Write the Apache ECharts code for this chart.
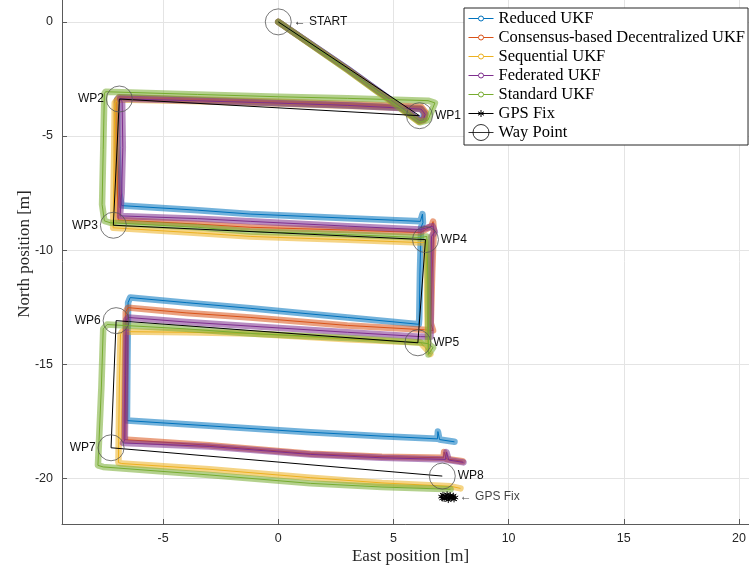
<!DOCTYPE html>
<html>
<head>
<meta charset="utf-8">
<script src="https://cdn.jsdelivr.net/npm/echarts@6/dist/echarts.min.js"></script>
<style>html,body{margin:0;padding:0;background:#fff}#chart{width:749px;height:571px}</style>
</head>
<body>
<div id="chart"></div>
<script>
// ---------------- data (East [m], North [m]) ----------------
const seriesNames = ['Reduced UKF', 'Consensus-based Decentralized UKF', 'Sequential UKF', 'Federated UKF', 'Standard UKF'];

const reducedUKF = [[0,0],[3,-2.05],[6.1,-4.3],[6.3,-4.2],[6.32,-3.95],[6.15,-3.78],[3,-3.65],[0,-3.55],[-3.5,-3.42],[-6.9,-3.3],[-7.0,-3.4],[-6.98,-5.5],[-6.9,-7.5],[-6.8,-8.05],[-3.5,-8.25],[-1.22,-8.42],[3,-8.6],[6.17,-8.74],[6.26,-8.42],[6.28,-8.8],[6.2,-9.0],[6.15,-11],[6.12,-13.0],[6.1,-13.25],[3,-12.95],[-1.22,-12.55],[-4,-12.3],[-6.43,-12.08],[-6.5,-12.05],[-6.52,-12.3],[-6.55,-15],[-6.57,-17.47],[-3,-17.7],[1.2,-17.97],[4.5,-18.15],[6.91,-18.27],[6.93,-17.95],[7.0,-18.3],[7.65,-18.4]];

const consensusUKF = [[0,0],[3,-2.07],[6.12,-4.35],[6.35,-4.25],[6.38,-3.95],[6.2,-3.72],[3,-3.6],[0,-3.5],[-3.5,-3.4],[-6.92,-3.3],[-7.02,-3.45],[-7.02,-5.5],[-6.98,-7.5],[-6.95,-8.68],[-3.5,-8.86],[-1.22,-9.0],[3,-9.12],[6.17,-9.23],[6.65,-8.95],[6.72,-8.75],[6.75,-9.1],[6.68,-11],[6.62,-13.2],[6.72,-13.52],[6.5,-13.5],[3,-13.3],[-1.22,-12.95],[-4,-12.75],[-6.52,-12.52],[-6.55,-12.45],[-6.62,-12.7],[-6.66,-15.5],[-6.7,-18.3],[-3,-18.55],[1.39,-18.92],[4.5,-19.05],[7.17,-19.1],[7.2,-18.85],[7.3,-19.15],[8.0,-19.25]];

const sequentialUKF = [[0,0],[3,-2.1],[6.1,-4.38],[6.35,-4.3],[6.4,-4.0],[6.2,-3.8],[3,-3.68],[0,-3.58],[-3.5,-3.48],[-6.95,-3.4],[-7.1,-3.55],[-7.12,-5.5],[-7.15,-7.5],[-7.17,-9.02],[-7.1,-9.1],[-3.5,-9.25],[-1.22,-9.4],[3,-9.55],[6.17,-9.67],[6.4,-9.65],[6.45,-11],[6.5,-14.4],[6.6,-14.55],[6.4,-14.3],[6.17,-14.05],[3,-13.9],[-1.22,-13.65],[-4,-13.6],[-6.78,-13.57],[-6.85,-13.7],[-6.9,-16],[-6.94,-19.31],[-6.8,-19.35],[-3,-19.6],[1.39,-19.97],[4.5,-20.2],[7.5,-20.35],[7.91,-20.44]];

const federatedUKF = [[0,0],[3,-2.06],[6.12,-4.32],[6.3,-4.3],[6.38,-4.05],[6.2,-3.82],[3,-3.66],[0,-3.56],[-3.5,-3.46],[-6.87,-3.37],[-6.78,-3.5],[-6.75,-5.5],[-6.8,-7.5],[-6.87,-8.5],[-3.5,-8.62],[-1.22,-8.74],[3,-8.95],[6.17,-9.1],[6.7,-8.95],[6.8,-9.2],[6.65,-9.4],[6.62,-11.5],[6.61,-13.8],[6.17,-13.79],[3,-13.6],[-1.22,-13.33],[-4,-13.15],[-6.52,-12.95],[-6.6,-13.05],[-6.63,-15.5],[-6.66,-18.3],[-6.74,-18.45],[-3,-18.6],[1.39,-18.95],[4.5,-19.1],[7.26,-19.17],[7.3,-18.85],[7.4,-19.2],[8.04,-19.3]];

const standardUKF = [[0,0],[3,-2.1],[6.15,-4.4],[6.5,-4.3],[6.8,-3.55],[6.5,-3.45],[3,-3.35],[0,-3.28],[-3.5,-3.18],[-7.5,-3.06],[-7.55,-3.15],[-7.6,-5.6],[-7.65,-8.0],[-7.55,-8.72],[-7.3,-8.8],[-3.5,-9.0],[-1.22,-9.18],[3,-9.32],[6.17,-9.45],[6.45,-9.4],[6.5,-11.5],[6.52,-14.57],[6.72,-14.27],[6.5,-14.1],[6.17,-14.05],[3,-13.85],[-1.22,-13.65],[-4,-13.45],[-7.43,-13.26],[-7.6,-13.45],[-7.68,-16],[-7.83,-19.43],[-7.6,-19.5],[-3,-19.85],[1.39,-20.22],[4.5,-20.38],[7.48,-20.48]];

const gpsFix = [[7.08,-20.80],[7.15,-20.72],[7.2,-20.9],[7.25,-20.78],[7.3,-20.85],[7.33,-20.70],[7.38,-20.95],[7.42,-20.8],[7.47,-20.74],[7.5,-20.88],[7.55,-20.82],[7.6,-20.76],[7.63,-20.92],[7.68,-20.84],[7.12,-20.88],[7.4,-20.86]];

const waypointNames = ['START','WP1','WP2','WP3','WP4','WP5','WP6','WP7','WP8'];
const waypoints = [[0,0],[6.13,-4.11],[-6.9,-3.38],[-7.16,-8.91],[6.39,-9.54],[6.06,-14.06],[-7.04,-13.09],[-7.26,-18.66],[7.12,-19.9]];

const xTickValues = [-5, 0, 5, 10, 15, 20];
const yTickValues = [0, -5, -10, -15, -20];

// ---------------- styling ----------------
const colors = ['#0072BD', '#D95319', '#EDB120', '#7E2F8E', '#77AC30'];
const trajectories = [reducedUKF, consensusUKF, sequentialUKF, federatedUKF, standardUKF];
const labelSide = {START:'right', WP1:'right', WP2:'left', WP3:'left', WP4:'right', WP5:'right', WP6:'left', WP7:'left', WP8:'right'};
const sans = "'Liberation Sans', Arial, Helvetica, sans-serif";
const serif = "'Liberation Serif', 'Times New Roman', serif";

const ukfIcon = 'path://M0,8 L10,8 M15,8 L25,8 M15,8 A2.5,2.5 0 1 1 10,8 A2.5,2.5 0 1 1 15,8 M12.5,0 M12.5,16';
const gpsIcon = 'path://M0,8 L25,8 M12.5,4.5 L12.5,11.5 M9.5,6.25 L15.5,9.75 M9.5,9.75 L15.5,6.25 M12.5,0 M12.5,16';
const wpIcon = 'path://M0,8 L25,8 M20.5,8 A8,8 0 1 1 4.5,8 A8,8 0 1 1 20.5,8';
const asterisk = 'path://M0,-1 L0,1 M-0.866,-0.5 L0.866,0.5 M-0.866,0.5 L0.866,-0.5';

const series = [];
trajectories.forEach((data, i) => {
  series.push({
    type: 'line', name: 'band' + i, data: data, showSymbol: false, silent: true,
    lineStyle: { color: colors[i], width: 6.5, opacity: 0.55, join: 'round', cap: 'round' },
    itemStyle: { color: colors[i] }, z: 2
  });
  series.push({
    type: 'line', name: seriesNames[i], data: data, showSymbol: false, symbol: 'emptyCircle',
    lineStyle: { color: colors[i], width: 1 }, itemStyle: { color: colors[i] }, z: 2
  });
});

const gx = gpsFix.reduce((s, p) => s + p[0], 0) / gpsFix.length;
const gy = gpsFix.reduce((s, p) => s + p[1], 0) / gpsFix.length;

series.push({
  type: 'line', name: 'GPS Fix', data: gpsFix, symbol: asterisk, symbolSize: 6, showSymbol: true,
  lineStyle: { width: 0, opacity: 0 },
  itemStyle: { color: 'none', borderColor: '#000', borderWidth: 1 }, z: 3
});
series.push({
  type: 'scatter', name: 'gpsLabel', data: [[gx, gy]], symbolSize: 1, silent: true,
  itemStyle: { color: 'transparent' },
  label: { show: true, position: 'right', distance: 11, formatter: '\u2190 GPS Fix',
           fontFamily: sans, fontSize: 12, color: '#111' }, z: 3
});
series.push({
  type: 'line', name: 'Way Point',
  data: waypoints.map((p, i) => ({
    value: p, name: waypointNames[i],
    label: { position: labelSide[waypointNames[i]] }
  })),
  symbol: 'circle', symbolSize: 26, showSymbol: true,
  lineStyle: { color: '#000', width: 1 },
  itemStyle: { color: 'transparent', borderColor: '#555', borderWidth: 0.8 },
  label: { show: true, distance: 2, fontFamily: sans, fontSize: 12, color: '#111',
           formatter: p => p.name === 'START' ? '\u2190 START' : p.name },
  z: 4
});

const legendData = seriesNames.map((n, i) => ({
  name: n, icon: ukfIcon,
  itemStyle: { color: 'none', borderColor: colors[i], borderWidth: 1 }
}));
legendData.push({ name: 'GPS Fix', icon: gpsIcon, itemStyle: { color: 'none', borderColor: '#000', borderWidth: 1 } });
legendData.push({ name: 'Way Point', icon: wpIcon, itemStyle: { color: 'none', borderColor: '#000', borderWidth: 0.8 } });

const option = {
  animation: false,
  backgroundColor: '#fff',
  grid: { left: 62, right: -10, top: -16, bottom: 47, outerBoundsMode: 'none', containLabel: false },
  xAxis: {
    type: 'value', min: -9.39, max: 20.87, splitNumber: 6,
    name: 'East position [m]', nameLocation: 'middle', nameGap: 24, nameMoveOverlap: false,
    nameTextStyle: { fontFamily: serif, fontSize: 17, color: '#262626' },
    axisLine: { show: true, onZero: false, lineStyle: { color: '#5a5a5a', width: 1 } },
    axisTick: { show: true, inside: true, length: 5, lineStyle: { color: '#5a5a5a' } },
    axisLabel: { margin: 8, fontFamily: sans, fontSize: 12.5, color: '#262626',
                 formatter: v => xTickValues.includes(v) ? String(v) : '' },
    splitLine: { show: true, lineStyle: { color: '#e4e4e4', width: 1 } }
  },
  yAxis: {
    type: 'value', min: -22, max: 1.66, splitNumber: 5,
    name: 'North position [m]', nameLocation: 'middle', nameGap: 29, nameMoveOverlap: false,
    nameTextStyle: { fontFamily: serif, fontSize: 17, color: '#262626' },
    axisLine: { show: true, onZero: false, lineStyle: { color: '#5a5a5a', width: 1 } },
    axisTick: { show: true, inside: true, length: 5, lineStyle: { color: '#5a5a5a' } },
    axisLabel: { margin: 9, fontFamily: sans, fontSize: 12.5, color: '#262626',
                 formatter: v => yTickValues.includes(v) ? String(v) : '' },
    splitLine: { show: true, lineStyle: { color: '#e4e4e4', width: 1 } }
  },
  legend: {
    data: legendData, orient: 'vertical', left: 464, top: 8,
    padding: [0, 3, 2, 2], itemGap: -2, itemWidth: 25, itemHeight: 16,
    backgroundColor: '#fff', borderColor: '#262626', borderWidth: 1, borderRadius: 0,
    selectedMode: false,
    textStyle: { fontFamily: serif, fontSize: 16.5, color: '#000' }
  },
  series: series
};

const chart = echarts.init(document.getElementById('chart'), null, { renderer: 'canvas' });
chart.setOption(option);
</script>
</body>
</html>
